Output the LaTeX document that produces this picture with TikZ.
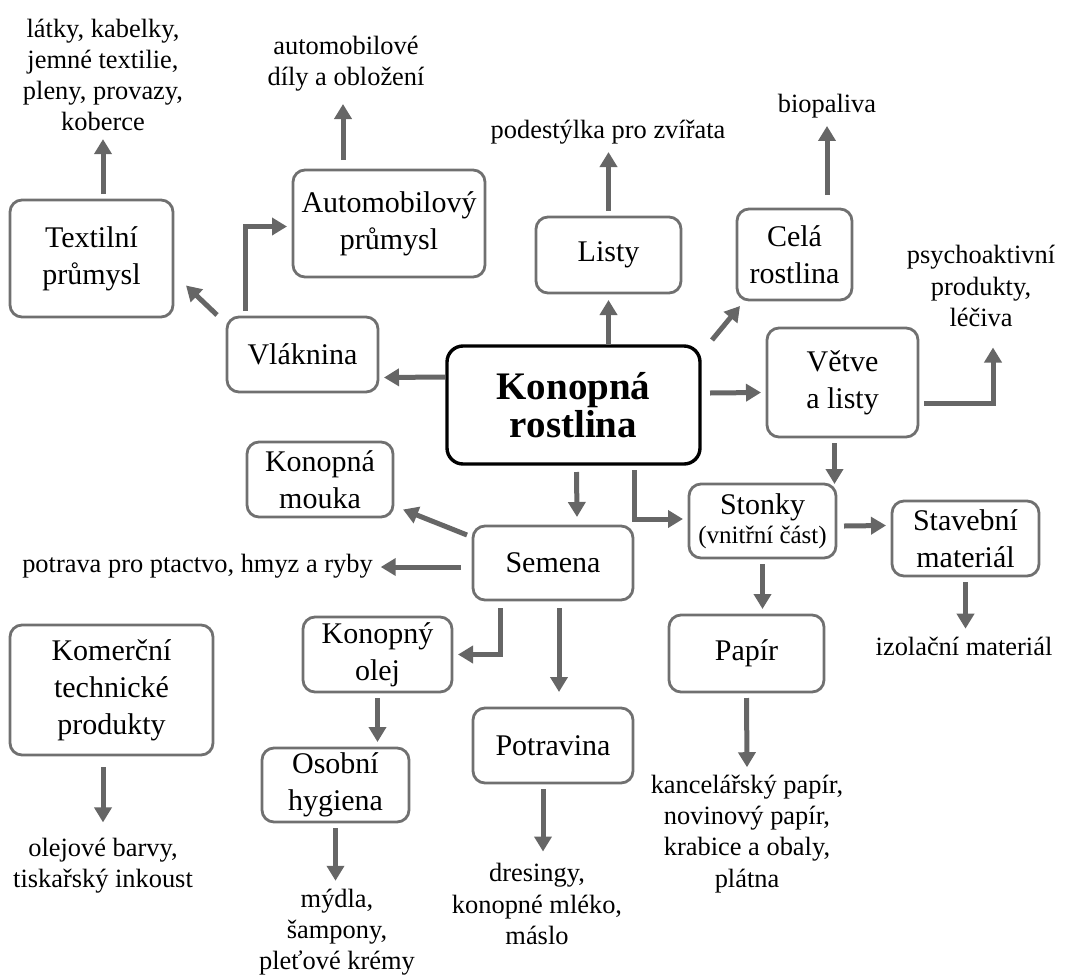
\documentclass[tikz,border=0pt]{standalone}
\usepackage{fontspec}
\setmainfont{Liberation Serif}
\usetikzlibrary{arrows.meta, calc}
\definecolor{boxframe}{RGB}{112,112,112}
\definecolor{arrowgray}{RGB}{102,102,102}

\begin{document}
\begin{tikzpicture}[
        x=0.5pt, y=-0.5pt,
        box/.style={draw=boxframe, line width=1.4pt, rounded corners=6pt, align=center, inner sep=2pt, outer sep=3pt, font=\fontsize{15}{18.5}\selectfont},
        mainbox/.style={draw=black, line width=1.7pt, rounded corners=8pt, align=center, inner sep=2pt, outer sep=3pt, font=\fontsize{19.5}{19}\selectfont\bfseries},
        sz/.style 2 args={minimum width=#1, minimum height=#2},
        leaf/.style={align=center, inner sep=2pt, outer sep=2pt, font=\fontsize{13.2}{15.6}\selectfont},
        arr/.style={-{Triangle[width=8.5pt,length=7.5pt]}, line width=2.5pt, draw=arrowgray}
    ]
    \useasboundingbox (0,0) rectangle (1068,974);

    % boxes
    \node[mainbox, sz={126.5pt}{59pt}] (plant) at (573.5,405) {Konopná\\rostlina};
    \node[box, sz={81.5pt}{58.5pt}] (tex) at (91.5,258.5) {Textilní\\průmysl};
    \node[box, sz={96pt}{53.5pt}] (auto) at (389,223.5) {Automobilový\\průmysl};
    \node[box, sz={75.5pt}{37.5pt}] (vlak) at (302.5,354.5) {Vláknina};
    \node[box, sz={72.5pt}{38pt}] (listy) at (608.5,255) {Listy};
    \node[box, sz={57.5pt}{45.5pt}] (cela) at (794.5,254.5) {Celá\\rostlina};
    \node[box, sz={75.5pt}{54.5pt}] (vetve) at (842.5,382.5) {Větve\\a listy};
    \node[box, sz={73.5pt}{37pt}] (stonky) at (762.5,521) {Stonky\\[-4pt]{\fontsize{12.5}{14}\selectfont(vnitřní část)}};
    \node[box, sz={73.5pt}{37.5pt}] (stav) at (965.5,538.5) {Stavební\\materiál};
    \node[box, sz={77.5pt}{38.5pt}] (papir) at (746.5,653.5) {Papír};
    \node[box, sz={80pt}{37pt}] (semena) at (553,563) {Semena};
    \node[box, sz={73pt}{37.5pt}] (mouka) at (320,479.5) {Konopná\\mouka};
    \node[box, sz={74.5pt}{37.5pt}] (olej) at (377.5,654.5) {Konopný\\olej};
    \node[box, sz={101.5pt}{65pt}] (komer) at (111.5,690) {Komerční\\technické\\produkty};
    \node[box, sz={73.5pt}{37pt}] (osob) at (335.5,785) {Osobní\\hygiena};
    \node[box, sz={80pt}{37.5pt}] (potr) at (553,745.5) {Potravina};

    % products
    \node[leaf] (texout) at (103,75) {látky, kabelky,\\jemné textilie,\\pleny, provazy,\\koberce};
    \node[leaf] (autoout) at (346,64) {automobilové\\díly a obložení};
    \node[leaf] (listyout) at (608,132) {podestýlka pro zvířata};
    \node[leaf] (celaout) at (827,106) {biopaliva};
    \node[leaf] (vetveout) at (981,286) {psychoaktivní\\produkty,\\léčiva};
    \node[leaf] (potravaout) at (197.5,566) {potrava pro ptactvo, hmyz a ryby};
    \node[leaf] (stavout) at (964,646) {izolační materiál};
    \node[leaf] (komerout) at (103,866) {olejové barvy,\\tiskařský inkoust};
    \node[leaf] (osobout) at (337,932) {mýdla,\\šampony,\\pleťové krémy};
    \node[leaf] (potrout) at (537,904) {dresingy,\\konopné mléko,\\máslo};
    \node[leaf] (papirout) at (747,834) {kancelářský papír,\\novinový papír,\\krabice a obaly,\\plátna};

    % arrows
    \draw[arr] (texout.south |- tex.north) -- (texout.south);
    \draw[arr, shorten <=2pt] ($(auto.north)+(-46,0)$) -- ($(auto.north)+(-46,-60)$);
    \draw[arr] ($(vlak.north west)+(-4,4)$) -- ($(tex.east)+(7,27)$);
    \draw[arr] ($(vlak.north)+(-57.5,0)$) |- ($(auto.west)+(0,3)$);
    \draw[arr] ($(plant.west)+(4,-28)$) -- ($(vlak.east)+(0,23)$);
    \draw[arr] ($(plant.north)+(35,5)$) -- ($(plant.north)+(35,-40)$);
    \draw[arr] (listy.north) -- (listy.north |- listyout.south);
    \draw[arr] ($(plant.north east)+(6,0)$) -- ($(cela.south west)+(9,0)$);
    \draw[arr, shorten <=4pt] (celaout.south |- cela.north) -- (celaout.south);
    \draw[arr] ($(plant.east)+(4,-12)$) -- ($(vetve.west)+(0,10)$);
    \draw[arr] ($(vetve.east)+(0,21)$) -| ($(vetveout.south)+(12,13)$);
    \draw[arr] ($(vetve.south)+(-8,0)$) -- ($(vetve.south)+(-8,41)$);
    \draw[arr] ($(plant.south)+(3,2)$) -- ($(semena.north)+(24,-3)$);
    \draw[arr] ($(plant.south)+(61,0)$) |- ($(stonky.west)+(0,-2)$);
    \draw[arr] ($(stonky.east)+(2,5)$) -- ($(stav.west)+(0,-13)$);
    \draw[arr] (stonky.south) -- (stonky.south |- papir.north);
    \draw[arr] (stav.south) -- (stav.south |- stavout.north);
    \draw[arr] ($(semena.west)+(0,-28)$) -- ($(mouka.east)+(4,30)$);
    \draw[arr] ($(semena.west)+(-6,4)$) -- ($(potravaout.east)+(0,1)$);
    \draw[arr] ($(semena.south)+(-53,2)$) |- (olej.east);
    \draw[arr] ($(semena.south)+(6,2)$) -- ($(potr.north)+(6,-10)$);
    \draw[arr] (olej.south) -- (olej.south |- osob.north);
    \draw[arr] (osob.south) -- (osob.south |- osobout.north);
    \draw[arr, shorten <=3pt, shorten >=4pt] (komerout.north |- komer.south) -- (komerout.north);
    \draw[arr] ($(potr.south)+(-10,0)$) -- ($(potrout.north)+(6,-4)$);
    \draw[arr] (papir.south) -- (papirout.north);

\end{tikzpicture}
\end{document}
